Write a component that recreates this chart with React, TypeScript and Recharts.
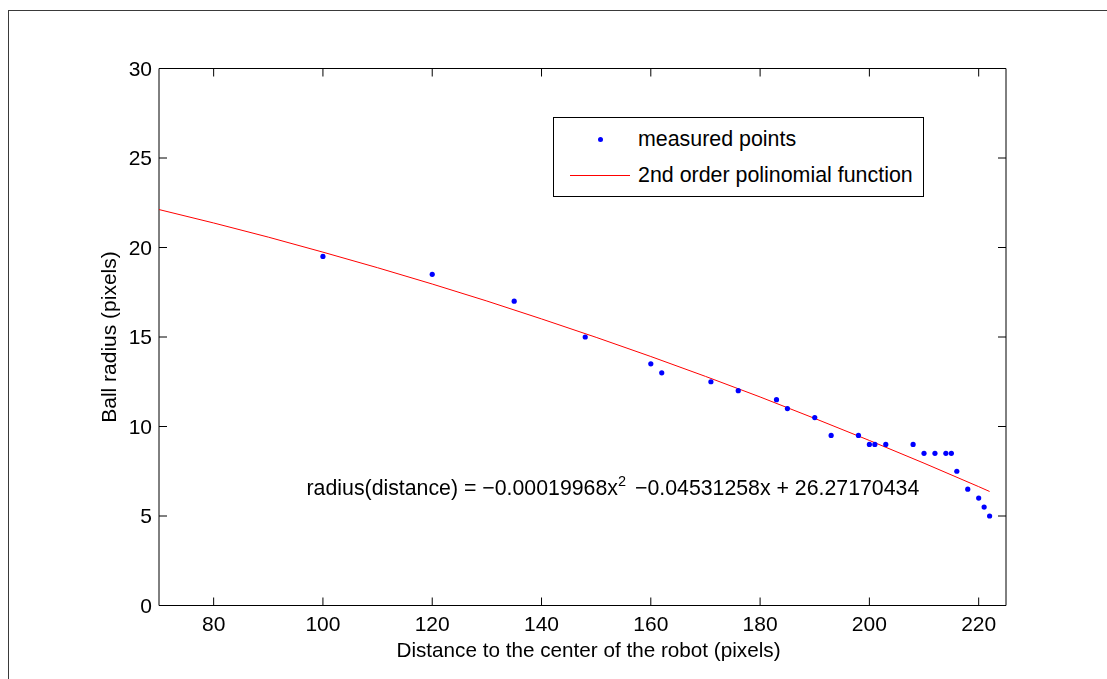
import React from 'react';
import { ScatterChart, Scatter, XAxis, YAxis, ReferenceDot } from 'recharts';

// measured samples
const measuredDistance = [100, 120, 135, 148, 160, 162, 171, 176, 183, 185, 190, 193, 198, 200, 201, 203, 208, 210, 212, 214, 215, 216, 218, 220, 221, 222];
const measuredRadius = [19.5, 18.5, 17, 15, 13.5, 13, 12.5, 12, 11.5, 11, 10.5, 9.5, 9.5, 9, 9, 9, 9, 8.5, 8.5, 8.5, 8.5, 7.5, 6.5, 6, 5.5, 5];

// fitted curve
const fitDistance = [70, 80, 90, 100, 110, 120, 130, 140, 150, 160, 170, 180, 190, 200, 210, 220, 222];
const fitRadius = [22.12, 21.37, 20.58, 19.74, 18.87, 17.96, 17.01, 16.01, 14.98, 13.91, 12.8, 11.65, 10.45, 9.22, 7.95, 6.64, 6.37];

const xTicks = [80, 100, 120, 140, 160, 180, 200, 220];
const yTicks = [0, 5, 10, 15, 20, 25, 30];

const FONT = '"Liberation Sans", Arial, Helvetica, sans-serif';

const measured = measuredDistance.map((x, i) => ({ x, y: measuredRadius[i] }));
const fit = fitDistance.map((x, i) => ({ x, y: fitRadius[i] }));

const tickStyle = { fontSize: 21, fill: '#000', fontFamily: FONT };

const BlueDot = (p: any) => <circle cx={p.cx} cy={p.cy} r={2.6} fill="#0000ff" />;
const NoDot = () => <g />;

const Equation = (p: any) => (
  <text x={p.cx} y={p.cy} fontSize={21.3} fontFamily={FONT} fill="#000">
    <tspan>radius(distance) = −0.00019968x</tspan>
    <tspan dy={-9} fontSize={14.5}>2</tspan>
    <tspan dy={9} dx={9}>−0.04531258x + 26.27170434</tspan>
  </text>
);

const YTitle = (p: any) => {
  const vb = p.viewBox;
  const cx = vb.x - 1;
  const cy = vb.y + vb.height / 2;
  return (
    <text x={cx} y={cy} transform={`rotate(-90 ${cx} ${cy})`} textAnchor="middle"
      dominantBaseline="central" fontSize={21} fontFamily={FONT} fill="#000">
      Ball radius (pixels)
    </text>
  );
};

const XTitle = (p: any) => {
  const vb = p.viewBox;
  return (
    <text x={vb.x + vb.width / 2 + 6} y={vb.y + 51.5} textAnchor="middle"
      fontSize={20.7} fontFamily={FONT} fill="#000">
      Distance to the center of the robot (pixels)
    </text>
  );
};

export default function App() {
  return (
    <div>
      <div style={{ position: 'fixed', left: 8, top: 10, width: 1300, height: 900, border: '1px solid #3a3a3a', boxSizing: 'border-box' }} />
      <div style={{ position: 'fixed', left: 0, top: 0, width: 1107, height: 679 }}>
        <ScatterChart width={1107} height={679} margin={{ top: 38.5, right: 71, bottom: 13.5, left: 109 }}>
          <XAxis type="number" dataKey="x" domain={[70, 225]} ticks={xTicks} allowDataOverflow
            height={60} tickSize={-8} tickMargin={19} tick={tickStyle}
            axisLine={{ stroke: '#000' }} tickLine={{ stroke: '#000' }} label={<XTitle />} />
          <XAxis xAxisId="top" orientation="top" type="number" dataKey="x" domain={[70, 225]} ticks={xTicks}
            allowDataOverflow height={30} tickSize={-8} tickFormatter={() => ''}
            axisLine={{ stroke: '#000' }} tickLine={{ stroke: '#000' }} />
          <YAxis type="number" dataKey="y" domain={[0, 30]} ticks={yTicks} allowDataOverflow
            width={50} tickSize={-8} tickMargin={15} tick={tickStyle}
            axisLine={{ stroke: '#000' }} tickLine={{ stroke: '#000' }} label={<YTitle />} />
          <YAxis yAxisId="right" orientation="right" type="number" dataKey="y" domain={[0, 30]} ticks={yTicks}
            allowDataOverflow width={30} tickSize={-8} tickFormatter={() => ''}
            axisLine={{ stroke: '#000' }} tickLine={{ stroke: '#000' }} />
          <Scatter name="2nd order polinomial function" data={fit} line={{ stroke: '#ff0000', strokeWidth: 1 }}
            lineType="joint" shape={NoDot} isAnimationActive={false} />
          <Scatter name="measured points" data={measured} shape={BlueDot} isAnimationActive={false} />
          <ReferenceDot x={97} y={6.17} r={0} shape={Equation} />
        </ScatterChart>
      </div>
      <div style={{ position: 'fixed', left: 553, top: 117, width: 371, height: 80, border: '1px solid #000',
        boxSizing: 'border-box', background: '#fff', fontFamily: FONT, fontSize: 21.4, color: '#000' }}>
        <div style={{ position: 'absolute', left: 44, top: 19, width: 5, height: 5, borderRadius: '50%', background: '#0000ff' }} />
        <div style={{ position: 'absolute', left: 84, top: 8, lineHeight: '26px', whiteSpace: 'nowrap' }}>measured points</div>
        <div style={{ position: 'absolute', left: 16, top: 57, width: 60, height: 1, background: '#ff0000' }} />
        <div style={{ position: 'absolute', left: 84, top: 44, lineHeight: '26px', whiteSpace: 'nowrap' }}>2nd order polinomial function</div>
      </div>
    </div>
  );
}
